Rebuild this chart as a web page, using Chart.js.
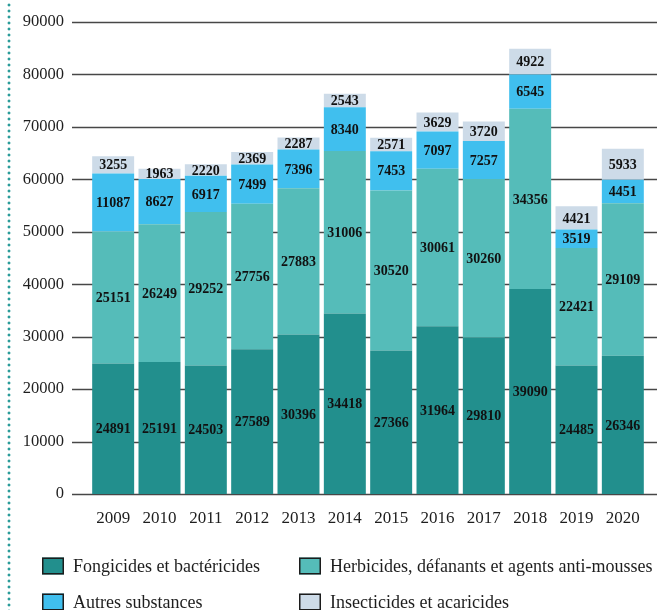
<!DOCTYPE html>
<html>
<head>
<meta charset="utf-8">
<script src="https://cdn.jsdelivr.net/npm/chart.js@4"></script>
<style>
  body { margin: 0; background: #fff; }
  #wrap { position: relative; width: 665px; height: 610px; }
  #dots {
    position: absolute; left: 6px; top: 2px; width: 6px; height: 608px;
    background-image: radial-gradient(circle, #2b9c9a 1.3px, transparent 1.7px);
    background-size: 6px 6px;
  }
  canvas { position: absolute; left: 0; top: 0; }
</style>
</head>
<body>
<div id="wrap">
  <div id="dots"></div>
  <canvas id="chart" width="665" height="610"></canvas>
</div>
<script>
// data
const years = ['2009', '2010', '2011', '2012', '2013', '2014', '2015', '2016', '2017', '2018', '2019', '2020'];
const fongicides = [24891, 25191, 24503, 27589, 30396, 34418, 27366, 31964, 29810, 39090, 24485, 26346];
const herbicides = [25151, 26249, 29252, 27756, 27883, 31006, 30520, 30061, 30260, 34356, 22421, 29109];
const autres = [11087, 8627, 6917, 7499, 7396, 8340, 7453, 7097, 7257, 6545, 3519, 4451];
const insecticides = [3255, 1963, 2220, 2369, 2287, 2543, 2571, 3629, 3720, 4922, 4421, 5933];

const seriesNames = [
    'Fongicides et bactéricides',
    'Herbicides, défanants et agents anti-mousses',
    'Autres substances',
    'Insecticides et acaricides',
];
const seriesColors = ['#228f8d', '#55bcb9', '#40bfee', '#cddbe8'];

const SERIF = '"Liberation Serif", "DejaVu Serif", serif';
const TEXT = '#1e1e1e';

// horizontal grid lines, wider than the bar area
const gridLines = {
    id: 'gridLines',
    beforeDatasetsDraw(chart) {
        const { ctx, chartArea, scales } = chart;
        ctx.save();
        ctx.strokeStyle = '#474747';
        ctx.lineWidth = 1.3;
        scales.y.ticks.forEach((t) => {
            const y = Math.round(scales.y.getPixelForValue(t.value)) + 0.5;
            ctx.beginPath();
            ctx.moveTo(chartArea.left - 18, y);
            ctx.lineTo(chartArea.right + 11, y);
            ctx.stroke();
        });
        ctx.restore();
    },
};

// value printed in the middle of each segment
const segmentLabels = {
    id: 'segmentLabels',
    afterDatasetsDraw(chart) {
        const { ctx } = chart;
        ctx.save();
        ctx.font = 'bold 14px ' + SERIF;
        ctx.fillStyle = '#111';
        ctx.textAlign = 'center';
        ctx.textBaseline = 'middle';
        chart.data.datasets.forEach((ds, i) => {
            chart.getDatasetMeta(i).data.forEach((bar, j) => {
                ctx.fillText(String(ds.data[j]), bar.x, (bar.y + bar.base) / 2 + 1);
            });
        });
        ctx.restore();
    },
};

// two-column legend under the chart
const twoColLegend = {
    id: 'twoColLegend',
    afterDraw(chart) {
        const { ctx } = chart;
        const cols = [42, 299];
        const rows = [566, 602];
        ctx.save();
        ctx.font = '18px ' + SERIF;
        ctx.textBaseline = 'middle';
        chart.data.datasets.forEach((ds, i) => {
            const x = cols[i % 2];
            const y = rows[Math.floor(i / 2)];
            ctx.fillStyle = ds.backgroundColor;
            ctx.fillRect(x, y - 8.5, 22, 17);
            ctx.strokeStyle = '#1c1c1c';
            ctx.lineWidth = 1.5;
            ctx.strokeRect(x + 0.75, y - 7.75, 20.5, 15.5);
            ctx.fillStyle = TEXT;
            ctx.fillText(ds.label, x + 31, y + 1);
        });
        ctx.restore();
    },
};

const datasets = [fongicides, herbicides, autres, insecticides].map((values, i) => ({
    label: seriesNames[i],
    data: values,
    backgroundColor: seriesColors[i],
    borderWidth: 0,
    barPercentage: 0.906,
    categoryPercentage: 1,
}));

new Chart(document.getElementById('chart').getContext('2d'), {
    type: 'bar',
    data: { labels: years, datasets },
    options: {
        responsive: false,
        animation: false,
        layout: { padding: { left: 0, right: 19, top: 22, bottom: 70 } },
        plugins: {
            legend: { display: false },
            tooltip: { enabled: false },
        },
        scales: {
            x: {
                stacked: true,
                grid: { display: false, drawTicks: false },
                border: { display: false },
                ticks: { color: TEXT, font: { family: SERIF, size: 17 }, padding: 14, maxRotation: 0 },
                afterFit: (s) => { s.height = 46; },
            },
            y: {
                stacked: true,
                min: 0,
                max: 90000,
                grid: { display: false, drawTicks: false },
                border: { display: false },
                ticks: {
                    stepSize: 10000,
                    color: TEXT,
                    font: { family: SERIF, size: 16.5 },
                    padding: 26,
                    callback: (v) => String(v),
                },
                afterFit: (s) => {
                    s.width = 90;
                    // tick padding would otherwise push the plot area down
                    s.paddingTop = 0;
                    s.paddingBottom = 0;
                },
            },
        },
    },
    plugins: [gridLines, segmentLabels, twoColLegend],
});
</script>
</body>
</html>
